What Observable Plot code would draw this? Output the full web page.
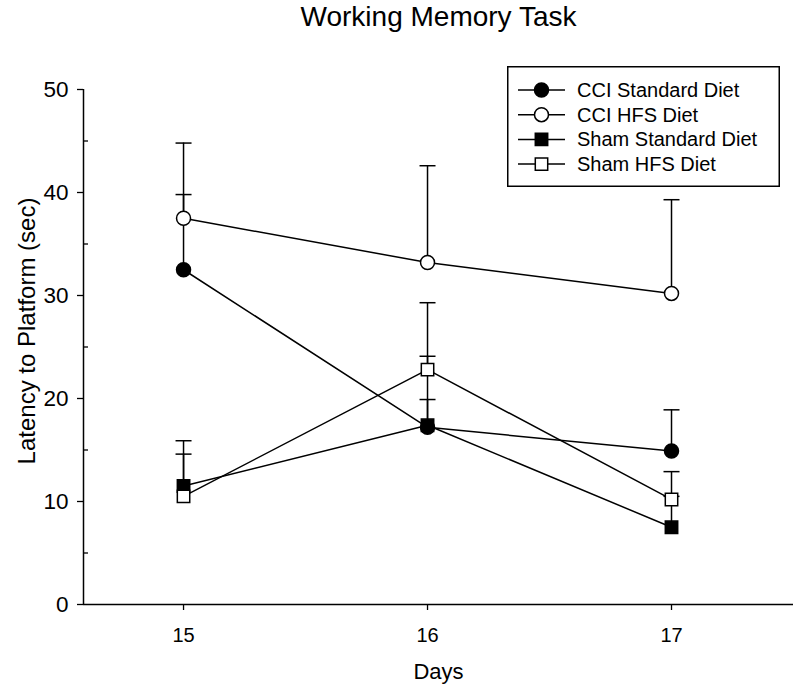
<!DOCTYPE html>
<html><head><meta charset="utf-8">
<script src="https://cdn.jsdelivr.net/npm/d3@7"></script>
<script src="https://cdn.jsdelivr.net/npm/@observablehq/plot@0.6"></script>
<style>
body{margin:0;background:#fff;font-family:"Liberation Sans",Arial,sans-serif}
#chart{position:relative;width:800px;height:693px}
#legend{position:absolute;left:507px;top:66px}
</style>
</head><body><div id="chart"></div>
<script>
const title = "Working Memory Task";
const xLabel = "Days";
const yLabel = "Latency to Platform (sec)";
const days = [15, 16, 17];
const seriesNames = ["CCI Standard Diet", "CCI HFS Diet", "Sham Standard Diet", "Sham HFS Diet"];
const seriesSymbols = ["circle", "circle", "square", "square"];
const seriesFills = ["black", "white", "black", "white"];
const cciStandard = [32.5, 17.2, 14.9];
const cciStandardErr = [7.3, 6.9, 4.0];
const cciHFS = [37.5, 33.2, 30.2];
const cciHFSErr = [7.3, 9.4, 9.1];
const shamStandard = [11.5, 17.4, 7.5];
const shamStandardErr = [4.4, 2.5, 3.0];
const shamHFS = [10.5, 22.8, 10.2];
const shamHFSErr = [4.1, 6.5, 2.7];
const xTicks = [15, 16, 17];
const yTicks = [0, 10, 20, 30, 40, 50];
const yMinorTicks = [5, 15, 25, 35, 45];
const xDomain = [14.59, 17.5];
const yDomain = [0, 50];

const seriesValues = [cciStandard, cciHFS, shamStandard, shamHFS];
const seriesErrors = [cciStandardErr, cciHFSErr, shamStandardErr, shamHFSErr];
const rows = [];
seriesNames.forEach((name, i) => {
  days.forEach((day, j) => {
    rows.push({series: name, day, value: seriesValues[i][j], top: seriesValues[i][j] + seriesErrors[i][j],
      symbol: seriesSymbols[i], fill: seriesFills[i]});
  });
});

const capSymbol = {draw(context, size) { const w = Math.sqrt(size / Math.PI); context.moveTo(-w, 0); context.lineTo(w, 0); }};

const chart = Plot.plot({
  width: 800, height: 693,
  marginTop: 89, marginBottom: 89, marginLeft: 83, marginRight: 7,
  x: {domain: xDomain},
  y: {domain: yDomain},
  symbol: {type: "identity"},
  color: {type: "identity"},
  style: {fontFamily: "'Liberation Sans', Arial, sans-serif", fontSize: "20px", color: "black", background: "white"},
  marks: [
    Plot.ruleX([xDomain[0]], {y1: yDomain[0], y2: yDomain[1], stroke: "black", strokeWidth: 1.5}),
    Plot.ruleY([yDomain[0]], {x1: xDomain[0], x2: xDomain[1], stroke: "black", strokeWidth: 1.5}),
    Plot.axisY({ticks: yTicks, tickSize: 6, tickPadding: 9, fontSize: 22.5, tickFormat: d => String(d), label: null, strokeWidth: 1.3}),
    Plot.axisY({ticks: yMinorTicks, tickSize: -5, fill: "none", label: null, strokeWidth: 1.3}),
    Plot.axisX({ticks: xTicks, tickSize: 6, tickPadding: 17, fontSize: 20, tickFormat: d => String(d), label: null, strokeWidth: 1.3}),
    Plot.ruleX(rows, {x: "day", y1: "value", y2: "top", stroke: "black", strokeWidth: 1.5}),
    Plot.dot(rows, {x: "day", y: "top", symbol: capSymbol, r: 8, stroke: "black", fill: "none", strokeWidth: 1.5}),
    Plot.line(rows, {x: "day", y: "value", z: "series", stroke: "black", strokeWidth: 1.5}),
    Plot.dot(rows, {x: "day", y: "value", symbol: "symbol", fill: "fill", stroke: "black", r: 7, strokeWidth: 1.5}),
    Plot.text([title], {text: d => d, frameAnchor: "top", dy: -72, fontSize: 28, lineAnchor: "middle"}),
    Plot.text([xLabel], {text: d => d, frameAnchor: "bottom", dy: 67, fontSize: 22, lineAnchor: "middle"}),
    Plot.text([yLabel], {text: d => d, frameAnchor: "left", rotate: -90, dx: -56, dy: -16, fontSize: 24, textAnchor: "middle", lineAnchor: "middle"})
  ]
});
document.getElementById("chart").appendChild(chart);

// Legend
const lw = 273, lh = 121;
const legend = d3.create("svg").attr("id", "legend").attr("width", lw).attr("height", lh)
  .style("font-family", "'Liberation Sans', Arial, sans-serif");
legend.append("rect").attr("x", 0.75).attr("y", 0.75).attr("width", lw - 1.5).attr("height", lh - 1.5)
  .attr("fill", "white").attr("stroke", "black").attr("stroke-width", 1.5);
const symMap = {circle: d3.symbolCircle, square: d3.symbolSquare};
seriesNames.forEach((name, i) => {
  const g = legend.append("g").attr("transform", `translate(0,${24 + i * 24.7})`);
  g.append("line").attr("x1", 11).attr("x2", 58).attr("stroke", "black").attr("stroke-width", 1.5);
  g.append("path").attr("transform", "translate(34.5,0)")
    .attr("d", d3.symbol(symMap[seriesSymbols[i]], 49 * Math.PI)())
    .attr("fill", seriesFills[i]).attr("stroke", "black").attr("stroke-width", 1.5);
  g.append("text").attr("x", 70).attr("dy", "0.35em").attr("font-size", 20).text(name);
});
document.getElementById("chart").appendChild(legend.node());
</script>
</body></html>
